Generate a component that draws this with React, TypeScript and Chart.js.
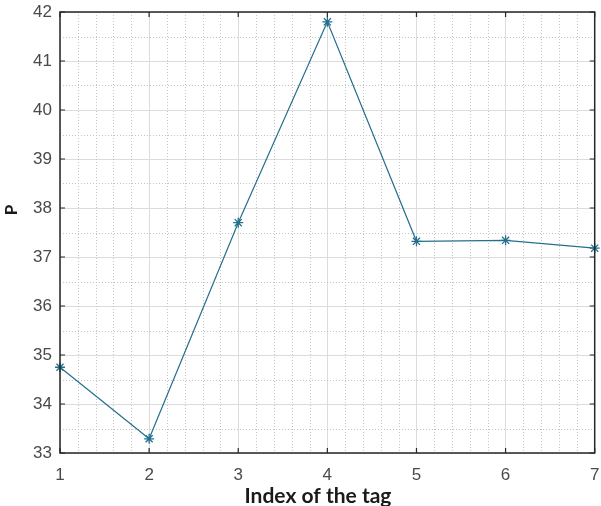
import React, { useEffect, useRef } from "react";
import { Chart, registerables } from "chart.js";

Chart.register(...registerables);

const tagIndex = [1, 2, 3, 4, 5, 6, 7];
const pValues = [34.75, 33.29, 37.7, 41.8, 37.32, 37.34, 37.18];
const xTitle = "Index of the tag";
const yTitle = "P";
const xMinorStep = 0.2;
const yMinorStep = 0.5;

const lineColor = "#23708e";

const matlabPlugin = {
  id: "matlabStyle",
  beforeDatasetsDraw(chart: any) {
    const { ctx, chartArea: a, scales } = chart;
    const xs = scales.x;
    const ys = scales.y;
    ctx.save();
    ctx.strokeStyle = "#c4c4c4";
    ctx.lineWidth = 1;
    ctx.setLineDash([1, 2]);
    for (let v = xs.min; v <= xs.max + 1e-9; v += xMinorStep) {
      if (Math.abs(v - Math.round(v)) < 1e-6) continue;
      const px = Math.round(xs.getPixelForValue(v)) + 0.5;
      ctx.beginPath();
      ctx.moveTo(px, a.top);
      ctx.lineTo(px, a.bottom);
      ctx.stroke();
    }
    for (let v = ys.min; v <= ys.max + 1e-9; v += yMinorStep) {
      if (Math.abs(v - Math.round(v)) < 1e-6) continue;
      const py = Math.round(ys.getPixelForValue(v)) + 0.5;
      ctx.beginPath();
      ctx.moveTo(a.left, py);
      ctx.lineTo(a.right, py);
      ctx.stroke();
    }
    ctx.restore();
  },
  afterDraw(chart: any) {
    const { ctx, chartArea: a, scales } = chart;
    const xs = scales.x;
    const ys = scales.y;
    ctx.save();
    ctx.setLineDash([]);
    ctx.strokeStyle = "#262626";
    ctx.lineWidth = 1.5;
    ctx.strokeRect(a.left, a.top, a.right - a.left, a.bottom - a.top);
    const tl = 5;
    ctx.lineWidth = 1.2;
    xs.ticks.forEach((t: any) => {
      const px = xs.getPixelForValue(t.value);
      ctx.beginPath();
      ctx.moveTo(px, a.bottom);
      ctx.lineTo(px, a.bottom - tl);
      ctx.moveTo(px, a.top);
      ctx.lineTo(px, a.top + tl);
      ctx.stroke();
    });
    ys.ticks.forEach((t: any) => {
      const py = ys.getPixelForValue(t.value);
      ctx.beginPath();
      ctx.moveTo(a.left, py);
      ctx.lineTo(a.left + tl, py);
      ctx.moveTo(a.right, py);
      ctx.lineTo(a.right - tl, py);
      ctx.stroke();
    });
    ctx.fillStyle = "#1a1a1a";
    ctx.font = "bold 21px Lato";
    ctx.textAlign = "center";
    ctx.textBaseline = "middle";
    ctx.fillText(xTitle, 318, 496);
    ctx.translate(12, 210);
    ctx.rotate(-Math.PI / 2);
    ctx.font = "bold 17px Lato";
    ctx.fillText(yTitle, 0, 0);
    ctx.restore();
  },
};

export default function App() {
  const ref = useRef<HTMLCanvasElement>(null);
  useEffect(() => {
    const chart = new Chart(ref.current as HTMLCanvasElement, {
      type: "line",
      data: {
        datasets: [
          {
            data: tagIndex.map((x, i) => ({ x, y: pValues[i] })),
            borderColor: lineColor,
            backgroundColor: lineColor,
            borderWidth: 1.2,
            pointStyle: "star",
            pointRadius: 5,
            pointBorderWidth: 1.3,
            pointBorderColor: lineColor,
            tension: 0,
            fill: false,
            clip: false,
          },
        ],
      },
      options: {
        animation: false,
        responsive: false,
        maintainAspectRatio: false,
        layout: { padding: { top: 12, right: 5, left: 0, bottom: 0 } },
        plugins: { legend: { display: false }, tooltip: { enabled: false } },
        scales: {
          x: {
            type: "linear",
            min: 1,
            max: 7,
            ticks: {
              stepSize: 1,
              padding: 12,
              color: "#4a4a4a",
              font: { family: "Liberation Sans", size: 17 },
            },
            grid: { color: "#dcdcdc", lineWidth: 1, drawTicks: false },
            border: { display: false },
            afterFit(s: any) {
              s.height = 53;
              s.paddingLeft = 0;
              s.paddingRight = 0;
            },
          },
          y: {
            type: "linear",
            min: 33,
            max: 42,
            ticks: {
              stepSize: 1,
              padding: 8,
              color: "#4a4a4a",
              font: { family: "Liberation Sans", size: 17 },
            },
            grid: { color: "#dcdcdc", lineWidth: 1, drawTicks: false },
            border: { display: false },
            afterFit(s: any) {
              s.width = 60;
              s.paddingTop = 0;
              s.paddingBottom = 0;
            },
          },
        },
      },
      plugins: [matlabPlugin],
    } as any);
    return () => chart.destroy();
  }, []);
  return (
    <div style={{ position: "fixed", left: 0, top: 0, width: 601, height: 506, background: "#fff" }}>
      <canvas ref={ref} width={601} height={506} style={{ width: 601, height: 506 }} />
    </div>
  );
}
